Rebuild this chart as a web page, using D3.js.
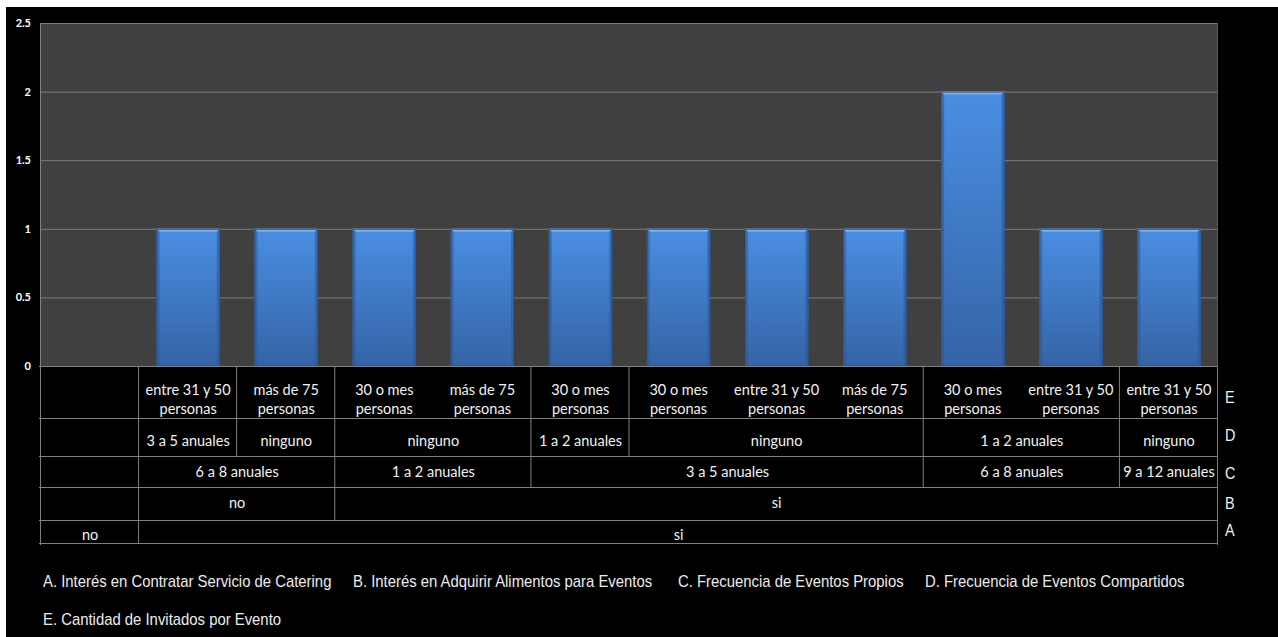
<!DOCTYPE html>
<html>
<head>
<meta charset="utf-8">
<script src="https://cdn.jsdelivr.net/npm/d3@7"></script>
<style>
  html, body { margin: 0; padding: 0; background: #ffffff; }
  svg { display: block; }
</style>
</head>
<body>
<svg id="chart" width="1278" height="637"></svg>
<script>
// ---- Data -------------------------------------------------------------
const values = [null, 1, 1, 1, 1, 1, 1, 1, 1, 2, 1, 1];

// Category levels, from the most detailed (E) up to the broadest (A)
const levelE = ["", "entre 31 y 50|personas", "más de 75|personas", "30 o mes|personas", "más de 75|personas",
  "30 o mes|personas", "30 o mes|personas", "entre 31 y 50|personas", "más de 75|personas",
  "30 o mes|personas", "entre 31 y 50|personas", "entre 31 y 50|personas"];
const levelD = ["", "3 a 5 anuales", "ninguno", "ninguno", "ninguno", "1 a 2 anuales", "ninguno", "ninguno",
  "ninguno", "1 a 2 anuales", "1 a 2 anuales", "ninguno"];
const levelC = ["", "6 a 8 anuales", "6 a 8 anuales", "1 a 2 anuales", "1 a 2 anuales", "3 a 5 anuales",
  "3 a 5 anuales", "3 a 5 anuales", "3 a 5 anuales", "6 a 8 anuales", "6 a 8 anuales", "9 a 12 anuales"];
const levelB = ["", "no", "no", "si", "si", "si", "si", "si", "si", "si", "si", "si"];
const levelA = ["no", "si", "si", "si", "si", "si", "si", "si", "si", "si", "si", "si"];

const levelNames = ["E", "D", "C", "B", "A"];
const yTicks = [0, 0.5, 1, 1.5, 2, 2.5];
const yTickLabels = ["0", "0.5", "1", "1.5", "2", "2.5"];

const legendItems = [
  "A. Interés en Contratar Servicio de Catering",
  "B. Interés en Adquirir Alimentos para Eventos",
  "C. Frecuencia de Eventos Propios",
  "D. Frecuencia de Eventos Compartidos",
  "E. Cantidad de Invitados por Evento"
];

// ---- Layout -----------------------------------------------------------
const W = 1278, H = 637;
const plot = { left: 41, right: 1218, top: 23, bottom: 366 };
// table rows (top, bottom) for E, D, C, B, A and text baseline offsets
const rows = [
  { top: 366, bottom: 418, base: [29, 48] },
  { top: 418, bottom: 456, base: [28] },
  { top: 456, bottom: 487, base: [21] },
  { top: 487, bottom: 520, base: [21] },
  { top: 520, bottom: 543, base: [20] }
];
const levelLetterY = [397, 435, 473, 503, 530];
const legendPos = [[43, 587], [353, 587], [678, 587], [925, 587], [43, 625]];

const levels = [levelE, levelD, levelC, levelB, levelA];
const n = values.length;

const svg = d3.select("#chart");

// black canvas behind the whole chart
svg.append("rect").attr("x", 6).attr("y", 7).attr("width", W - 6).attr("height", H - 7).attr("fill", "#000");

const x = d3.scaleBand().domain(d3.range(n)).range([plot.left, plot.right]).paddingInner(0).paddingOuter(0);
const y = d3.scaleLinear().domain([0, 2.5]).range([plot.bottom, plot.top]);

// plot background
svg.append("rect")
  .attr("x", plot.left).attr("y", plot.top)
  .attr("width", plot.right - plot.left).attr("height", plot.bottom - plot.top)
  .attr("fill", "#404040");

// gridlines
const grid = svg.append("g").attr("transform", `translate(${plot.left},0)`)
  .call(d3.axisLeft(y).tickValues(yTicks).tickSize(-(plot.right - plot.left)).tickFormat(""));
grid.select(".domain").remove();
grid.selectAll(".tick line").attr("stroke", "#7c7c7c").attr("stroke-width", 1);

// plot edges
svg.append("line").attr("x1", plot.right - 0.5).attr("x2", plot.right - 0.5)
  .attr("y1", plot.top).attr("y2", plot.bottom).attr("stroke", "#585858");

// y axis labels
const yAxis = svg.append("g").attr("transform", `translate(${plot.left},0)`)
  .call(d3.axisLeft(y).tickValues(yTicks).tickSize(0).tickPadding(10)
    .tickFormat((d, i) => yTickLabels[i]));
yAxis.select(".domain").remove();
yAxis.selectAll("text")
  .attr("fill", "#ffffff")
  .style("font-family", "Lato, 'Open Sans', sans-serif")
  .style("font-size", "11px")
  .style("font-weight", "bold");

// ---- Bars -------------------------------------------------------------
const defs = svg.append("defs");
const grad = defs.append("linearGradient").attr("id", "barGrad")
  .attr("x1", 0).attr("y1", 0).attr("x2", 0).attr("y2", 1);
grad.append("stop").attr("offset", "0%").attr("stop-color", "#4a8ee2");
grad.append("stop").attr("offset", "100%").attr("stop-color", "#3564a6");

const barW = x.bandwidth() * 0.645;
const bev = 3;
const barData = values.map((v, i) => ({ v, i })).filter(d => d.v != null);

const bars = svg.append("g").selectAll("g").data(barData).join("g")
  .attr("transform", d => `translate(${x(d.i) + (x.bandwidth() - barW) / 2},${y(d.v)})`);

bars.append("rect")
  .attr("width", barW)
  .attr("height", d => y(0) - y(d.v))
  .attr("fill", "url(#barGrad)");
// top bevel highlight
bars.append("polygon")
  .attr("points", `0,0 ${barW},0 ${barW - bev},${bev} ${bev},${bev}`)
  .attr("fill", "#79b2f2");
// side shading
bars.append("polygon")
  .attr("points", d => `0,0 ${bev},${bev} ${bev},${y(0) - y(d.v)} 0,${y(0) - y(d.v)}`)
  .attr("fill", "#2b5a9c").attr("opacity", 0.55);
bars.append("polygon")
  .attr("points", d => `${barW},0 ${barW - bev},${bev} ${barW - bev},${y(0) - y(d.v)} ${barW},${y(0) - y(d.v)}`)
  .attr("fill", "#2b5a9c").attr("opacity", 0.55);
bars.append("rect")
  .attr("x", 0.5).attr("y", 0.5)
  .attr("width", barW - 1)
  .attr("height", d => y(0) - y(d.v) - 1)
  .attr("fill", "none").attr("stroke", "#2d5894").attr("stroke-width", 1);

// ---- Multi-level category table ---------------------------------------
const table = svg.append("g");
const lineColor = "#808080";

// hierarchical key of category i at level li (includes all broader levels)
function key(i, li) {
  const parts = [];
  for (let l = levels.length - 1; l >= li; l--) parts.push(levels[l][i]);
  return parts.join("||");
}

// horizontal row lines
const hLines = [rows[0].top].concat(rows.map(r => r.bottom));
table.selectAll("line.h").data(hLines).join("line")
  .attr("x1", plot.left - 2).attr("x2", plot.right)
  .attr("y1", d => d + 0.5).attr("y2", d => d + 0.5)
  .attr("stroke", lineColor).attr("stroke-width", 1);

// outer vertical edges
[plot.left, plot.right].forEach(xx => {
  table.append("line")
    .attr("x1", xx - 0.5).attr("x2", xx - 0.5)
    .attr("y1", xx === plot.left ? plot.top : plot.bottom).attr("y2", rows[4].bottom + 2)
    .attr("stroke", lineColor);
});

// group boundaries: a line runs from the axis down through the broadest level that changes
const boundaries = [];
for (let i = 1; i < n; i++) {
  let deepest = -1;
  for (let li = levels.length - 1; li >= 1; li--) {
    if (key(i, li) !== key(i - 1, li)) { deepest = li; break; }
  }
  if (deepest >= 1) boundaries.push({ x: x(i), bottom: rows[deepest].bottom });
}
table.selectAll("line.v").data(boundaries).join("line")
  .attr("x1", d => d.x - 0.5).attr("x2", d => d.x - 0.5)
  .attr("y1", plot.bottom).attr("y2", d => d.bottom)
  .attr("stroke", lineColor);

// group labels per level
levels.forEach((lvl, li) => {
  const groups = [];
  for (let i = 0; i < n; i++) {
    const k = key(i, li);
    const g = groups[groups.length - 1];
    if (g && g.key === k) g.end = i; else groups.push({ key: k, start: i, end: i, label: lvl[i] });
  }
  const row = rows[li];
  groups.filter(g => g.label !== "").forEach(g => {
    const cx = (x(g.start) + x(g.end) + x.bandwidth()) / 2;
    const lines = g.label.split("|");
    lines.forEach((t, j) => {
      table.append("text")
        .attr("x", cx)
        .attr("y", row.top + row.base[Math.min(j, row.base.length - 1)])
        .attr("text-anchor", "middle")
        .attr("fill", "#f2f2f2")
        .style("font-family", "Lato, 'Open Sans', sans-serif")
        .style("font-size", "14.5px")
        .text(t);
    });
  });
});

// level letters on the right
svg.append("g").selectAll("text").data(levelNames).join("text")
  .attr("transform", (d, i) => `translate(1225,${levelLetterY[i] + 6}) scale(0.9,1)`)
  .attr("fill", "#f2f2f2")
  .style("font-family", "'Liberation Sans', Arial, sans-serif")
  .style("font-size", "16px")
  .text(d => d);

// ---- Legend -----------------------------------------------------------
svg.append("g").selectAll("text").data(legendItems).join("text")
  .attr("transform", (d, i) => `translate(${legendPos[i][0]},${legendPos[i][1]}) scale(0.93,1)`)
  .attr("fill", "#ececec")
  .style("font-family", "'Liberation Sans', Arial, sans-serif")
  .style("font-size", "16px")
  .text(d => d);
</script>
</body>
</html>
